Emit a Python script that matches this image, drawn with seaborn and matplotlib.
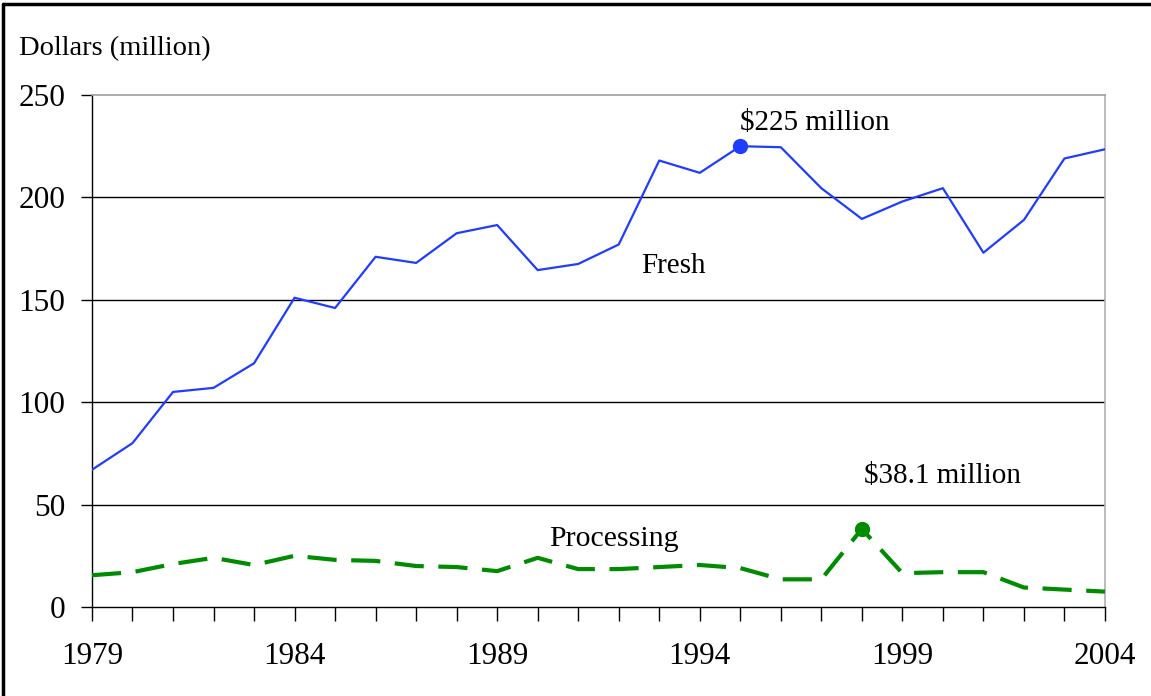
import matplotlib
matplotlib.use("Agg")
import matplotlib.pyplot as plt
from matplotlib.lines import Line2D
import seaborn as sns
import pandas as pd

years = list(range(1979, 2005))
fresh = [67, 80, 105, 107, 119, 151, 146, 171, 168, 182.5, 186.5, 164.5, 167.5, 177,
         218, 212, 225, 224.5, 204.5, 189.5, 198, 204.5, 173, 189, 219, 223.5]
processing = [15.5, 17, 21, 24, 20.5, 25, 23, 22.5, 20, 19.5, 17.5, 24, 18.5, 18.5,
              19.5, 20.5, 19, 13.5, 13.5, 38.1, 16.5, 17, 17, 9.5, 8.5, 7.5]
xtick_years = [1979, 1984, 1989, 1994, 1999, 2004]
yticks = [0, 50, 100, 150, 200, 250]

sns.set_theme(style="white")
plt.rcParams['font.family'] = ['Liberation Serif', 'DejaVu Serif']

df = pd.DataFrame({"year": years, "Fresh": fresh, "Processing": processing})

fig = plt.figure(figsize=(11.51, 6.96), dpi=100)
ax = fig.add_axes([0.0799, 0.1279, 0.9600 - 0.0799, 0.8635 - 0.1279])

blue = "#1f3cff"
green = "#008c00"

sns.lineplot(data=df, x="year", y="Fresh", ax=ax, color=blue, linewidth=1.6, zorder=3)
sns.lineplot(data=df, x="year", y="Processing", ax=ax, color=green, linewidth=3.0,
             zorder=3)
ax.lines[-1].set_dashes((7, 3.5))

# highlighted points
i_f = years.index(1995)
i_p = years.index(1998)
ax.plot([years[i_f]], [fresh[i_f]], 'o', color=blue, markersize=10, zorder=4)
ax.plot([years[i_p]], [processing[i_p]], 'o', color=green, markersize=10, zorder=4)

ax.set_xlim(1979, 2004)
ax.set_ylim(0, 250)
ax.set_yticks(yticks)
ax.set_xticks(xtick_years)
ax.set_xticks(years, minor=True)
ax.set_xlabel("")
ax.set_ylabel("")

for y in [50, 100, 150, 200]:
    ax.axhline(y, color="black", linewidth=1.0, zorder=1)

ax.tick_params(axis="x", which="both", direction="out", length=10, width=1,
               color="black", labelsize=22.5, pad=15, bottom=True)
ax.tick_params(axis="y", which="major", direction="out", length=8, width=1,
               color="black", labelsize=22.5, pad=11, left=True)
for lab in ax.get_xticklabels() + ax.get_yticklabels():
    lab.set_color("black")

ax.spines["left"].set_color("black")
ax.spines["bottom"].set_color("black")
ax.spines["left"].set_linewidth(1.0)
ax.spines["bottom"].set_linewidth(1.0)
ax.spines["top"].set_color("#a0a0a0")
ax.spines["right"].set_color("#b0b0b0")
ax.spines["top"].set_linewidth(1.2)
ax.spines["right"].set_linewidth(1.2)

ax.text(1995.0, 233, r"\$225 million", fontsize=21, ha="left", va="baseline",
        color="black")
ax.text(1993.36, 163, "Fresh", fontsize=21, ha="center", va="baseline", color="black")
ax.text(1991.88, 29.8, "Processing", fontsize=21.5, ha="center", va="baseline",
        color="black")
ax.text(1998.05, 60.5, r"\$38.1 million", fontsize=21, ha="left", va="baseline",
        color="black")

fig.text(19 / 1151, 1 - 55 / 696, "Dollars (million)", fontsize=20.5, ha="left",
         va="baseline", color="black")

# outer frame (left and top edges)
fig.add_artist(Line2D([3 / 1151, 3 / 1151], [0, 1 - 4 / 696], transform=fig.transFigure,
                      color="black", linewidth=2.5))
fig.add_artist(Line2D([3 / 1151, 1], [1 - 4 / 696, 1 - 4 / 696], transform=fig.transFigure,
                      color="black", linewidth=2.5))

fig.savefig("out.png", dpi=100, facecolor="white")
